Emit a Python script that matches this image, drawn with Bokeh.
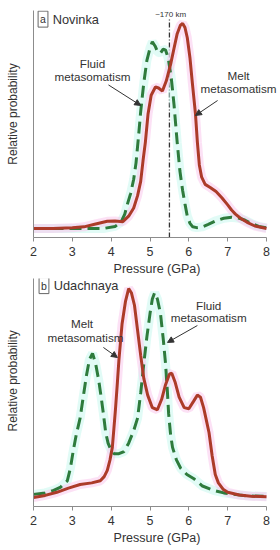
from bokeh.plotting import figure
from bokeh.layouts import column
from bokeh.models import Label, Arrow, NormalHead, FixedTicker
from bokeh.embed import file_html
from bokeh.resources import INLINE

FONT = "Liberation Sans"
TXT = "#333333"
RED = "#ac3b29"
GREEN = "#2e7b3c"
RED_HALO = "#f9c9ec"
GREEN_HALO = "#c9f7ee"

x_ticks = [2, 3, 4, 5, 6, 7, 8]

# ---- Panel a: Novinka ----
a_melt_p = [2.0, 2.5, 3.0, 3.3, 3.6, 3.9, 4.1, 4.3, 4.45, 4.58, 4.68, 4.76, 4.82, 4.88,
            4.95, 5.03, 5.14, 5.22, 5.32, 5.42, 5.53, 5.62, 5.7, 5.78, 5.84, 5.9, 5.96,
            6.03, 6.09, 6.17, 6.22, 6.27, 6.33, 6.42, 6.55, 6.7, 6.85, 7.0, 7.1, 7.2,
            7.33, 7.5, 7.7, 8.0]
a_melt_v = [0.0, 0.0, 0.003, 0.008, 0.022, 0.035, 0.036, 0.033, 0.06, 0.1, 0.16, 0.23, 0.33,
            0.42, 0.56, 0.65, 0.69, 0.685, 0.67, 0.72, 0.8, 0.88, 0.95, 0.99, 1.0, 0.98,
            0.93, 0.83, 0.71, 0.56, 0.42, 0.31, 0.25, 0.215, 0.2, 0.18, 0.15, 0.115,
            0.09, 0.07, 0.05, 0.03, 0.012, 0.0]

a_fluid_p = [2.0, 3.0, 3.8, 4.1, 4.25, 4.35, 4.42, 4.5, 4.58, 4.64, 4.7, 4.76, 4.84, 4.92,
             5.0, 5.06, 5.13, 5.2, 5.27, 5.34, 5.4, 5.47, 5.55, 5.62, 5.7, 5.77, 5.84,
             5.9, 5.96, 6.03, 6.1, 6.2, 6.35, 6.5, 6.7, 6.9, 7.1, 7.3, 7.45, 7.6, 7.8, 8.0]
a_fluid_v = [0.0, 0.0, 0.0, 0.01, 0.03, 0.07, 0.12, 0.17, 0.24, 0.32, 0.44, 0.57, 0.71,
             0.82, 0.88, 0.91, 0.89, 0.86, 0.855, 0.875, 0.87, 0.83, 0.73, 0.6, 0.42,
             0.28, 0.185, 0.12, 0.06, 0.025, 0.008, 0.004, 0.008, 0.02, 0.038, 0.05,
             0.055, 0.05, 0.04, 0.025, 0.01, 0.003]

depth_p = 5.5
depth_label = "~170 km"

# ---- Panel b: Udachnaya ----
b_melt_p = [2.0, 2.3, 2.6, 2.9, 3.2, 3.5, 3.72, 3.82, 3.9, 3.97, 4.03, 4.07, 4.11, 4.16,
            4.2, 4.28, 4.37, 4.45, 4.52, 4.6, 4.68, 4.76, 4.84, 4.94, 5.06, 5.19, 5.3,
            5.4, 5.5, 5.56, 5.65, 5.75, 5.88, 6.0, 6.12, 6.22, 6.3, 6.38, 6.45, 6.52,
            6.6, 6.68, 6.76, 6.88, 7.0, 7.3, 7.6, 8.0]
b_melt_v = [0.0, 0.01, 0.025, 0.045, 0.062, 0.07, 0.08, 0.1, 0.13, 0.18, 0.24, 0.33, 0.42,
            0.55, 0.66, 0.83, 0.94, 1.0, 0.98, 0.92, 0.8, 0.68, 0.57, 0.49, 0.43, 0.42,
            0.47, 0.54, 0.59, 0.595, 0.55, 0.48, 0.43, 0.425, 0.46, 0.49, 0.48, 0.43,
            0.37, 0.31, 0.2, 0.11, 0.07, 0.04, 0.025, 0.012, 0.006, 0.004]

b_fluid_p = [2.0, 2.3, 2.52, 2.7, 2.87, 2.95, 3.02, 3.1, 3.2, 3.28, 3.36, 3.44, 3.52, 3.6,
             3.68, 3.75, 3.8, 3.86, 3.92, 4.0, 4.07, 4.2, 4.33, 4.45, 4.58, 4.68, 4.76,
             4.84, 4.92, 5.0, 5.06, 5.12, 5.19, 5.27, 5.34, 5.4, 5.45, 5.48, 5.53, 5.58,
             5.68, 5.79, 5.95, 6.13, 6.35, 6.64, 6.9, 7.16, 7.5, 8.0]
b_fluid_v = [0.015, 0.022, 0.034, 0.05, 0.08, 0.14, 0.22, 0.3, 0.38, 0.48, 0.58, 0.66,
             0.69, 0.64, 0.56, 0.47, 0.4, 0.31, 0.26, 0.225, 0.21, 0.21, 0.22, 0.26, 0.32,
             0.38, 0.5, 0.64, 0.77, 0.88, 0.95, 0.98, 0.95, 0.88, 0.76, 0.64, 0.5, 0.4,
             0.3, 0.24, 0.18, 0.14, 0.11, 0.09, 0.055, 0.034, 0.022, 0.015, 0.008, 0.005]

Y_LABEL = "Relative probability"
NBSP = "\u00a0"


def make_panel(height, y_range, border_top, border_bottom, ylabel_shift):
    p = figure(width=280, height=height, x_range=(2, 8.36), y_range=y_range,
               output_backend="svg", toolbar_location=None,
               min_border_left=33, min_border_right=0,
               min_border_top=border_top, min_border_bottom=border_bottom)
    p.outline_line_color = None
    p.grid.visible = False
    p.background_fill_color = "white"
    # x axis
    xa = p.xaxis[0]
    xa.bounds = (2, 8)
    xa.ticker = FixedTicker(ticks=x_ticks)
    xa.minor_tick_line_color = None
    xa.major_tick_out = 4
    xa.major_tick_in = 0
    xa.axis_line_color = "#8c8c8c"
    xa.major_tick_line_color = "#8c8c8c"
    xa.major_label_text_font = FONT
    xa.major_label_text_font_size = "12.5px"
    xa.major_label_text_color = TXT
    xa.major_label_standoff = 5
    xa.axis_label = "Pressure (GPa)"
    xa.axis_label_text_font = FONT
    xa.axis_label_text_font_size = "12.5px"
    xa.axis_label_text_font_style = "normal"
    xa.axis_label_text_color = TXT
    xa.axis_label_standoff = 3
    # y axis (label nudged upward with leading non-breaking spaces)
    ya = p.yaxis[0]
    ya.ticker = FixedTicker(ticks=[])
    ya.major_label_text_font_size = "0px"
    ya.major_tick_line_color = None
    ya.minor_tick_line_color = None
    ya.axis_line_color = "#8c8c8c"
    ya.axis_label = NBSP * ylabel_shift + Y_LABEL
    ya.axis_label_text_font = FONT
    ya.axis_label_text_font_size = "12px"
    ya.axis_label_text_font_style = "normal"
    ya.axis_label_text_color = TXT
    ya.axis_label_standoff = 14
    return p


def add_curves(p, fp, fv, mp, mv):
    p.line(fp, fv, line_color=GREEN_HALO, line_width=9, line_alpha=0.55)
    p.line(mp, mv, line_color=RED_HALO, line_width=9, line_alpha=0.55)
    p.line(fp, fv, line_color=GREEN, line_width=3, line_dash="12 6")
    p.line(mp, mv, line_color=RED, line_width=3)


def text(p, x, y, s, size="11.7px", align="center"):
    p.add_layout(Label(x=x, y=y, text=s, text_font=FONT, text_font_size=size,
                       text_color=TXT, text_align=align, text_baseline="middle"))


def arrow(p, x0, y0, x1, y1):
    p.add_layout(Arrow(end=NormalHead(size=6, fill_color="#333333", line_color="#333333",
                                      line_width=1),
                       x_start=x0, y_start=y0, x_end=x1, y_end=y1,
                       line_color="#333333", line_width=1))


def panel_tag(p, x, y, letter, name):
    p.add_layout(Label(x=x, y=y, text=letter, text_font=FONT, text_font_size="10.5px",
                       text_color=TXT, text_align="center", text_baseline="middle",
                       border_line_color="#666666", border_line_width=1,
                       background_fill_color="white", padding=2))
    text(p, x + 0.25, y, name, size="12.8px", align="left")


# Top panel (frame: y 10..237 in page pixels)
p1 = make_panel(278, (-0.044, 1.063), 10, 41, 6)
p1.line([depth_p, depth_p], [-0.044, 1.02], line_color="#333333", line_width=1.3,
        line_dash="5 2 1 2")
add_curves(p1, a_fluid_p, a_fluid_v, a_melt_p, a_melt_v)
text(p1, 5.53, 1.045, depth_label, size="8px")
panel_tag(p1, 2.245, 1.021, "a", "Novinka")
text(p1, 3.52, 0.805, "Fluid")
text(p1, 3.52, 0.741, "metasomatism")
arrow(p1, 3.93, 0.70, 4.76, 0.60)
text(p1, 7.28, 0.746, "Melt")
text(p1, 7.28, 0.683, "metasomatism")
arrow(p1, 6.74, 0.624, 6.17, 0.551)

# Bottom panel (frame: y 278..506 in page pixels)
p2 = make_panel(272, (-0.043, 1.048), 0, 44, 7)
add_curves(p2, b_fluid_p, b_fluid_v, b_melt_p, b_melt_v)
panel_tag(p2, 2.27, 1.014, "b", "Udachnaya")
text(p2, 3.25, 0.833, "Melt")
text(p2, 3.34, 0.766, "metasomatism")
arrow(p2, 3.80, 0.718, 4.16, 0.67)
text(p2, 6.51, 0.919, "Fluid")
text(p2, 6.51, 0.861, "metasomatism")
arrow(p2, 6.22, 0.823, 5.45, 0.742)

layout = column(p1, p2, spacing=0)
open("out.html", "w").write(file_html(layout, INLINE))
